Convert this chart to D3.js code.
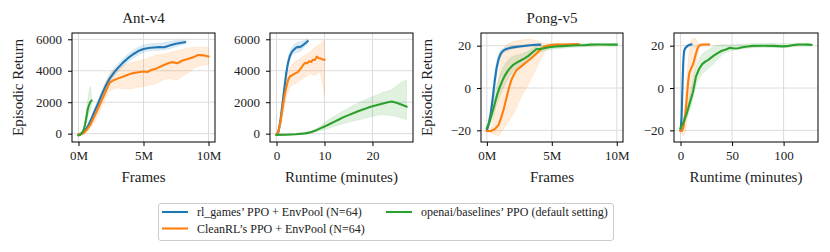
<!DOCTYPE html>
<html>
<head>
<meta charset="utf-8">
<script src="https://cdn.jsdelivr.net/npm/d3@7"></script>
<style>
  body { margin: 0; background: #fff; }
  text { font-family: "Liberation Serif", "DejaVu Serif", serif; fill: #222; }
  .tick text { font-size: 13px; }
  .title, .label { font-size: 15px; }
  .legend text { font-size: 12px; }
</style>
</head>
<body>
<div id="graphic"></div>
<script>
// ---- data ----
var methods = ["rl_games\u2019 PPO + EnvPool (N=64)", "CleanRL\u2019s PPO + EnvPool (N=64)", "openai/baselines\u2019 PPO (default setting)"];
var colors = ["#1f77b4", "#ff7f0e", "#2ca02c"];

var titles = ["Ant-v4", "", "Pong-v5", ""];
var xLabels = ["Frames", "Runtime (minutes)", "Frames", "Runtime (minutes)"];

var antTicks = [0, 2000, 4000, 6000];
var pongTicks = [-20, 0, 20];
var framesTicks = [0, 5, 10];
var antRuntimeTicks = [0, 10, 20];
var pongRuntimeTicks = [0, 50, 100];

// Ant-v4, x = frames (M)
var antFramesBlue = [[0,-80],[0.2,-20],[0.4,80],[0.6,300],[0.8,600],[1.0,950],[1.2,1350],[1.5,1900],[1.8,2500],[2.1,3050],[2.4,3500],[2.7,3850],[3.0,4150],[3.4,4500],[3.8,4800],[4.2,5050],[4.6,5250],[5.0,5380],[5.4,5450],[5.8,5480],[6.2,5500],[6.6,5490],[7.0,5600],[7.4,5700],[7.8,5760],[8.2,5820]];
var antFramesBlueBand = [[0,-150,0],[0.6,200,400],[1.2,1200,1550],[1.8,2300,2750],[2.4,3250,3750],[3.0,3900,4400],[3.8,4550,5050],[4.6,5000,5500],[5.4,5250,5700],[6.2,5300,5750],[7.0,5400,5850],[7.8,5600,5950],[8.2,5700,5950]];
var antFramesOrange = [[0,-50],[0.3,0],[0.6,200],[0.9,550],[1.2,1050],[1.5,1600],[1.8,2150],[2.1,2700],[2.4,3250],[2.7,3400],[3.0,3500],[3.4,3620],[3.8,3750],[4.2,3850],[4.6,3900],[5.0,3950],[5.3,3920],[5.6,4050],[6.0,4150],[6.4,4300],[6.8,4450],[7.2,4550],[7.6,4480],[8.0,4650],[8.4,4750],[8.8,4850],[9.2,5000],[9.6,4980],[10.0,4900]];
var antFramesOrangeBand = [[0,-150,50],[0.6,50,400],[1.2,700,1400],[1.8,1700,2700],[2.4,2700,3800],[3.0,2900,4200],[3.6,2850,4400],[4.0,2850,4500],[4.5,2950,4600],[5.0,3000,4700],[5.5,3100,4850],[6.0,3200,5000],[6.5,3400,5050],[7.0,3500,5150],[7.5,3400,5250],[8.0,3650,5350],[8.5,3900,5450],[9.0,4200,5500],[9.5,4350,5500],[10.0,4400,5500]];
var antFramesGreen = [[0,-100],[0.1,-80],[0.2,0],[0.3,80],[0.4,250],[0.5,550],[0.6,1000],[0.7,1500],[0.8,1800],[0.9,2000],[1.0,2100]];
var antFramesGreenBand = [[0,-150,-50],[0.2,-60,60],[0.4,150,400],[0.6,700,1500],[0.8,1300,2600],[0.9,1500,3000],[1.0,1800,2400]];

// Ant-v4, x = runtime (minutes)
var antTimeBlue = [[0,-50],[0.4,100],[0.8,800],[1.2,1800],[1.6,2800],[2.0,3800],[2.4,4500],[2.8,4950],[3.2,5200],[3.6,5330],[4.0,5450],[4.4,5520],[4.8,5500],[5.2,5560],[5.6,5650],[6.0,5750],[6.5,5880]];
var antTimeBlueBand = [[0,-120,20],[0.8,600,1000],[1.6,2500,3100],[2.4,4200,4800],[3.2,4950,5450],[4.0,5150,5750],[4.8,5200,5850],[5.6,5450,5900],[6.5,5750,6000]];
var antTimeOrange = [[0,-50],[0.4,150],[0.8,700],[1.2,1500],[1.6,2300],[2.0,2900],[2.4,3400],[2.8,3650],[3.2,3700],[3.6,3780],[4.0,3850],[4.4,3900],[4.8,4050],[5.2,4200],[5.6,4400],[6.0,4500],[6.4,4480],[6.8,4600],[7.2,4560],[7.6,4700],[8.0,4680],[8.4,4900],[8.8,4800],[9.2,4780],[9.6,4720],[10.0,4700]];
var antTimeOrangeBand = [[0,-150,50],[0.8,400,1000],[1.4,1300,2500],[2.0,2200,3500],[3.0,3000,4300],[4.0,3200,4600],[5.0,3400,4800],[6.0,3600,5000],[7.0,3800,5200],[8.0,3700,5500],[9.0,3900,5700],[9.5,3300,5850],[10.0,2400,5950]];
var antTimeGreen = [[0,-80],[2,-70],[4,-40],[6,20],[7,80],[8,180],[9,320],[10,450],[11,600],[12,750],[13,900],[14,1050],[15,1180],[16,1300],[17,1420],[18,1530],[19,1640],[20,1740],[21,1820],[22,1900],[23,1980],[24,2040],[25,1960],[26,1850],[27.1,1720]];
var antTimeGreenBand = [[0,-120,-40],[6,-20,60],[8,100,280],[10,250,700],[12,450,1100],[14,650,1450],[16,800,1800],[18,950,2100],[20,1100,2350],[22,1200,2600],[24,1150,2800],[26,1000,3250],[27.1,900,3400]];

// Pong-v5, x = frames (M)
var pongFramesBlue = [[0,-20],[0.15,-17],[0.3,-12],[0.45,-5],[0.6,3],[0.75,9.5],[0.9,13.5],[1.05,16],[1.2,17.3],[1.4,18.2],[1.7,18.8],[2.0,19.2],[2.5,19.6],[3.0,20],[3.5,20.3],[4.1,20.5]];
var pongFramesBlueBand = [[0,-20.5,-19.5],[0.3,-15,-9],[0.6,-1,7],[0.9,11,16],[1.2,16,18.5],[1.7,18,19.6],[2.5,19,20.2],[4.1,20,21]];
var pongFramesOrange = [[0,-20.3],[0.3,-20.3],[0.6,-19.5],[0.9,-17.5],[1.1,-14],[1.3,-10],[1.5,-5],[1.7,0],[1.9,4],[2.1,6.5],[2.3,8.6],[2.6,10],[2.9,11.5],[3.2,13],[3.5,14.5],[3.8,16.2],[4.1,18],[4.4,19.5],[4.8,20.2],[5.3,20.5],[6.0,20.6],[6.5,20.7],[7.05,20.8]];
var pongFramesOrangeBand = [[0,-20.8,-19.8],[0.3,-21.3,-19],[0.6,-22,-10],[0.9,-22.6,5],[1.1,-21,14],[1.3,-19,19],[1.8,-14.8,21.5],[2.3,-9,22.3],[2.8,-2.5,22.8],[3.3,3,23.2],[3.7,8,22.6],[4.1,13,21.8],[4.4,16.5,21.2],[4.8,19,21],[5.5,19.8,21],[7.05,20.2,21.2]];
var pongFramesGreen = [[0,-19],[0.2,-16],[0.4,-12],[0.6,-7.5],[0.8,-3],[1.0,0.5],[1.2,3.5],[1.4,6],[1.6,8],[1.8,9.5],[2.0,10.8],[2.3,12],[2.6,13],[2.9,14],[3.2,15.2],[3.5,16.8],[3.8,18.3],[4.1,18.5],[4.4,18.8],[4.8,19.3],[5.3,19.6],[5.8,19.8],[6.3,20],[7.0,20.2],[7.5,20.2],[8.0,20.5],[8.5,20.6],[9.0,20.6],[9.5,20.5],[10.0,20.5]];
var pongFramesGreenBand = [[0,-20,-18],[0.4,-15,-8],[0.8,-7,2],[1.2,-1,9],[1.6,4,13],[2.0,7.5,15],[2.6,10.5,16],[3.2,13,17.5],[3.8,16.5,19.8],[4.4,17.5,20.2],[5.3,18.5,20.8],[6.3,19,21],[8.0,19.6,21.2],[10.0,19.8,21]];

// Pong-v5, x = runtime (minutes)
var pongTimeBlue = [[0,-20],[1,-14],[1.6,-4],[2.2,6],[2.8,13.5],[3.4,17.2],[4.2,18.5],[5.2,19.2],[6.5,19.8],[8,20.3],[10.5,20.6]];
var pongTimeBlueBand = [[0,-20.5,-19.5],[1,-17,-10],[1.6,-9,2],[2.2,1,11],[2.8,10,16.5],[3.4,15.5,18.8],[5.2,18.3,20],[10.5,20,21.2]];
var pongTimeOrange = [[0,-20.2],[1.5,-20.3],[3,-18],[4.5,-13],[5.5,-8],[6.5,-2],[7.5,3.5],[8.5,7],[10,9],[11.5,10.5],[13,12.5],[14.5,15.5],[16,18],[17.5,19.8],[19,20.3],[22,20.6],[25,20.6],[27.7,20.6]];
var pongTimeOrangeBand = [[0,-21,-19.5],[3,-22.5,-14],[5,-20,-3],[7,-12,10],[8.5,-6,18],[10,-3,22],[12,3,23.5],[14,9,23.5],[16,14,22],[17.5,17.5,21],[19,19.5,21],[27.7,20,21.2]];
var pongTimeGreen = [[0,-19],[3,-16],[6,-12],[9,-7],[12,-2],[15,5.5],[18,9],[21,11.3],[24,12.5],[27,13.3],[30,14.5],[33,15.5],[36,16.5],[40,17.6],[44,18.2],[48,19],[52,18.7],[56,18.8],[60,19.3],[65,19.6],[70,19.9],[80,20],[90,19.9],[100,19.7],[105,19.9],[110,20.3],[115,20.6],[120,20.6],[124,20.5],[127,20.4]];
var pongTimeGreenBand = [[0,-20,-18],[6,-14,-9],[10,-9,-1],[15,1,10],[20,6,15.5],[25,8.5,17.5],[30,10.5,19],[35,13,20.2],[40,15.5,20.5],[48,17.5,20.5],[60,18.5,20.8],[80,19.2,21],[100,19,21],[110,19.5,21.2],[127,19.8,21.1]];

// ---- layout ----
var width = 830,
    height = 252;

var plotTop = 33,
    plotBottom = 142;

var panels = [
  { left: 72, right: 215, xDomain: [-0.5, 10.5], yDomain: [-530, 6400], xTicks: framesTicks, yTicks: antTicks, frames: true, ylabel: true,
    lines: [antFramesBlue, antFramesOrange, antFramesGreen], bands: [antFramesBlueBand, antFramesOrangeBand, antFramesGreenBand] },
  { left: 270, right: 413, xDomain: [-1.36, 28.45], yDomain: [-530, 6400], xTicks: antRuntimeTicks, yTicks: antTicks, frames: false, ylabel: false,
    lines: [antTimeBlue, antTimeOrange, antTimeGreen], bands: [antTimeBlueBand, antTimeOrangeBand, antTimeGreenBand] },
  { left: 481, right: 623, xDomain: [-0.45, 10.48], yDomain: [-25.5, 26], xTicks: framesTicks, yTicks: pongTicks, frames: true, ylabel: true,
    lines: [pongFramesBlue, pongFramesOrange, pongFramesGreen], bands: [pongFramesBlueBand, pongFramesOrangeBand, pongFramesGreenBand] },
  { left: 674, right: 818, xDomain: [-6.35, 133.35], yDomain: [-25.5, 26], xTicks: pongRuntimeTicks, yTicks: pongTicks, frames: false, ylabel: false,
    lines: [pongTimeBlue, pongTimeOrange, pongTimeGreen], bands: [pongTimeBlueBand, pongTimeOrangeBand, pongTimeGreenBand] }
];

var svg = d3.select("#graphic")
    .append("svg")
    .attr("width", width)
    .attr("height", height);

function fmtY(v) {
  return v < 0 ? "\u2212" + Math.abs(v) : String(v);
}

panels.forEach(function(p, i) {
  var x = d3.scaleLinear().domain(p.xDomain).range([p.left, p.right]);
  var y = d3.scaleLinear().domain(p.yDomain).range([plotBottom, plotTop]);

  var g = svg.append("g").attr("class", "panel");

  // clip so bands stay inside the frame
  var clipId = "clip" + i;
  svg.append("clipPath").attr("id", clipId)
    .append("rect")
      .attr("x", p.left).attr("y", plotTop)
      .attr("width", p.right - p.left).attr("height", plotBottom - plotTop);

  // grid
  g.selectAll(".vgrid")
      .data(p.xTicks)
      .enter().append("line")
      .attr("x1", function(d) { return x(d); })
      .attr("x2", function(d) { return x(d); })
      .attr("y1", plotTop).attr("y2", plotBottom)
      .attr("stroke", "#dcdcdc").attr("stroke-width", 1);

  g.selectAll(".hgrid")
      .data(p.yTicks)
      .enter().append("line")
      .attr("y1", function(d) { return y(d); })
      .attr("y2", function(d) { return y(d); })
      .attr("x1", p.left).attr("x2", p.right)
      .attr("stroke", "#dcdcdc").attr("stroke-width", 1);

  var plot = g.append("g").attr("clip-path", "url(#" + clipId + ")");

  var area = d3.area()
      .x(function(d) { return x(d[0]); })
      .y0(function(d) { return y(d[1]); })
      .y1(function(d) { return y(d[2]); })
      .curve(d3.curveMonotoneX);

  var line = d3.line()
      .x(function(d) { return x(d[0]); })
      .y(function(d) { return y(d[1]); });

  p.bands.forEach(function(b, k) {
    plot.append("path")
        .datum(b)
        .attr("d", area)
        .attr("fill", colors[k])
        .attr("fill-opacity", 0.15)
        .attr("stroke", colors[k])
        .attr("stroke-opacity", 0.12)
        .attr("stroke-width", 0.8);
  });

  p.lines.forEach(function(l, k) {
    plot.append("path")
        .datum(l)
        .attr("d", line)
        .attr("fill", "none")
        .attr("stroke", colors[k])
        .attr("stroke-width", 2.1)
        .attr("stroke-linejoin", "round")
        .attr("stroke-linecap", "square");
  });

  // axes
  var xAxis = g.append("g")
      .attr("transform", "translate(0," + plotBottom + ")")
      .call(d3.axisBottom(x)
        .tickValues(p.xTicks)
        .tickSize(4)
        .tickPadding(5)
        .tickFormat(function(d) { return p.frames ? d + "M" : d; }));

  var yAxis = g.append("g")
      .attr("transform", "translate(" + p.left + ",0)")
      .call(d3.axisLeft(y)
        .tickValues(p.yTicks)
        .tickSize(4)
        .tickPadding(6)
        .tickFormat(fmtY));

  [xAxis, yAxis].forEach(function(a) {
    a.select(".domain").remove();
    a.selectAll(".tick line").attr("stroke", "#000").attr("stroke-width", 1);
    a.selectAll(".tick text").attr("font-family", null).attr("font-size", null).attr("fill", "#222");
  });

  g.append("rect")
      .attr("x", p.left).attr("y", plotTop)
      .attr("width", p.right - p.left)
      .attr("height", plotBottom - plotTop)
      .attr("fill", "none")
      .attr("stroke", "#000")
      .attr("stroke-width", 1);

  if (titles[i]) {
    g.append("text")
        .attr("class", "title")
        .attr("x", (p.left + p.right) / 2)
        .attr("y", 23)
        .attr("text-anchor", "middle")
        .text(titles[i]);
  }

  g.append("text")
      .attr("class", "label")
      .attr("x", (p.left + p.right) / 2)
      .attr("y", 182)
      .attr("text-anchor", "middle")
      .text(xLabels[i]);

  if (p.ylabel) {
    g.append("text")
        .attr("class", "label")
        .attr("transform", "translate(" + (p.left - 49) + "," + ((plotTop + plotBottom) / 2) + ") rotate(-90)")
        .attr("text-anchor", "middle")
        .text("Episodic Return");
  }
});

// legend
var legend = svg.append("g").attr("class", "legend");

legend.append("rect")
    .attr("x", 158.5).attr("y", 203.5)
    .attr("width", 455).attr("height", 37)
    .attr("rx", 2.5)
    .attr("fill", "#fff")
    .attr("stroke", "#cccccc")
    .attr("stroke-width", 1);

var legendPos = [[162, 212], [162, 228.5], [386, 212]];

methods.forEach(function(m, k) {
  var lx = legendPos[k][0], ly = legendPos[k][1];
  legend.append("line")
      .attr("x1", lx).attr("x2", lx + 26)
      .attr("y1", ly).attr("y2", ly)
      .attr("stroke", colors[k])
      .attr("stroke-width", 2.1);
  legend.append("text")
      .attr("x", lx + 35)
      .attr("y", ly + 4)
      .text(m);
});
</script>
</body>
</html>
